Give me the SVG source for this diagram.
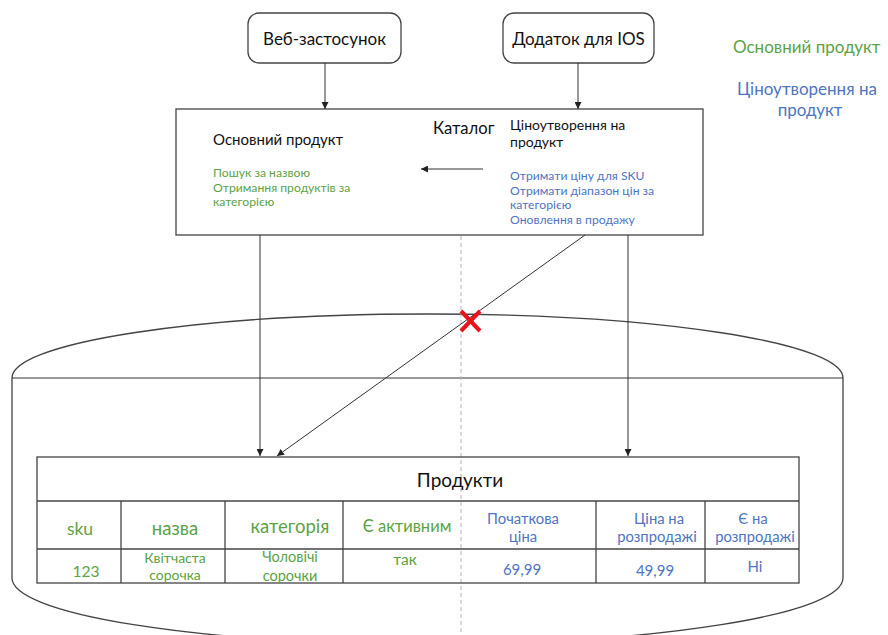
<svg xmlns="http://www.w3.org/2000/svg" width="888" height="635" viewBox="0 0 888 635">
  <style>
    text { font-family: Lato, "Open Sans", "Noto Sans", sans-serif; }
    .blk { fill: #111; }
    .grn { fill: #5ba345; }
    .blu { fill: #4f74c2; }
    .mid { text-anchor: middle; }
    .box { fill: #fff; stroke: #444; stroke-width: 1.3; }
    .cell { fill: none; stroke: #444; stroke-width: 1.3; }
    .conn { fill: none; stroke: #333; stroke-width: 1; }
    .store { fill: #fff; stroke: #444; stroke-width: 1.3; }
  </style>
  <defs>
    <marker id="arr" viewBox="0 0 10 10" refX="10" refY="5" markerWidth="7" markerHeight="7" markerUnits="userSpaceOnUse" orient="auto">
      <path d="M0,0 L10,5 L0,10 Z" fill="#222"/>
    </marker>
  </defs>
  <rect width="888" height="635" fill="#fff"/>

  <!-- database cylinder -->
  <g id="db">
    <path class="store" d="M12,378 A415.5,64 0 0 1 843,378 L843,578 A415.5,66 0 0 1 12,578 Z"/>
    <line class="conn" x1="12" y1="378" x2="843" y2="378" stroke="#555"/>
  </g>

  <!-- divider between the two domains -->
  <line x1="461" y1="110" x2="461" y2="635" stroke="#b4b4b4" stroke-width="1" stroke-dasharray="4 3"/>

  <!-- clients -->
  <g id="web">
    <rect class="box" x="248" y="13" width="153" height="50" rx="11"/>
    <text class="blk mid" x="324.5" y="45" font-size="17">Веб-застосунок</text>
  </g>
  <g id="ios">
    <rect class="box" x="503" y="13" width="151" height="50" rx="11"/>
    <text class="blk mid" x="578.5" y="45" font-size="17">Додаток для IOS</text>
  </g>

  <!-- catalog service -->
  <g id="catalog">
    <rect class="box" x="176" y="109" width="527" height="126" fill="none"/>
    <text class="blk" x="433" y="134" font-size="16.6">Каталог</text>
    <text class="blk" x="213" y="145" font-size="15">Основний продукт</text>
    <text class="grn" x="213" y="177" font-size="12.2">Пошук за назвою</text>
    <text class="grn" x="213" y="191.7" font-size="12.2">Отримання продуктів за</text>
    <text class="grn" x="213" y="206.4" font-size="12.2">категорією</text>
    <text class="blk" x="510" y="130" font-size="14">Ціноутворення на</text>
    <text class="blk" x="510" y="147" font-size="14">продукт</text>
    <text class="blu" x="510" y="180" font-size="12.2">Отримати ціну для SKU</text>
    <text class="blu" x="510" y="194.7" font-size="12.2">Отримати діапазон цін за</text>
    <text class="blu" x="510" y="209.4" font-size="12.2">категорією</text>
    <text class="blu" x="510" y="224.1" font-size="12.2">Оновлення в продажу</text>
  </g>

  <!-- legend -->
  <g id="legend">
    <text class="grn" x="733" y="53" font-size="17">Основний продукт</text>
    <text class="blu" x="737" y="95" font-size="17">Ціноутворення на</text>
    <text class="blu mid" x="810" y="116" font-size="17">продукт</text>
  </g>

  <!-- products table -->
  <g id="products">
    <rect class="cell" x="37" y="457" width="762" height="126" fill="#fff"/>
    <line class="cell" x1="37" y1="501" x2="799" y2="501"/>
    <line class="cell" x1="37" y1="549" x2="799" y2="549"/>
    <line class="cell" x1="121" y1="501" x2="121" y2="583"/>
    <line class="cell" x1="225" y1="501" x2="225" y2="583"/>
    <line class="cell" x1="343" y1="501" x2="343" y2="583"/>
    <line class="cell" x1="596" y1="501" x2="596" y2="583"/>
    <line class="cell" x1="705" y1="501" x2="705" y2="583"/>
    <text class="blk mid" x="460" y="487" font-size="19">Продукти</text>

    <text class="grn mid" x="80" y="535" font-size="17.5">sku</text>
    <text class="grn mid" x="175" y="535" font-size="18.5">назва</text>
    <text class="grn mid" x="290" y="533" font-size="18.5">категорія</text>
    <text class="grn mid" x="407" y="532" font-size="16.5">Є активним</text>
    <text class="blu mid" x="523" y="524" font-size="14.8">Початкова</text>
    <text class="blu mid" x="523" y="542" font-size="14.8">ціна</text>
    <text class="blu mid" x="659" y="524" font-size="14.8">Ціна на</text>
    <text class="blu mid" x="657" y="542" font-size="14.8">розпродажі</text>
    <text class="blu mid" x="753" y="524" font-size="14.8">Є на</text>
    <text class="blu mid" x="755" y="542" font-size="14.8">розпродажі</text>

    <text class="grn mid" x="86" y="577" font-size="15.5">123</text>
    <text class="grn mid" x="175" y="563" font-size="14">Квітчаста</text>
    <text class="grn mid" x="175" y="580" font-size="14">сорочка</text>
    <text class="grn mid" x="290" y="562" font-size="14.5">Чоловічі</text>
    <text class="grn mid" x="290" y="581" font-size="14.5">сорочки</text>
    <text class="grn mid" x="405" y="565" font-size="15.5">так</text>
    <text class="blu mid" x="522" y="575" font-size="15">69,99</text>
    <text class="blu mid" x="655" y="576" font-size="15">49,99</text>
    <text class="blu mid" x="755" y="572" font-size="15">Ні</text>
  </g>

  <!-- connectors -->
  <g id="connectors">
    <line class="conn" x1="325" y1="63" x2="325" y2="109" marker-end="url(#arr)"/>
    <line class="conn" x1="578" y1="63" x2="578" y2="109" marker-end="url(#arr)"/>
    <line class="conn" x1="483" y1="169" x2="421" y2="169" marker-end="url(#arr)"/>
    <line class="conn" x1="260" y1="235" x2="260" y2="456" marker-end="url(#arr)"/>
    <line class="conn" x1="628" y1="235" x2="628" y2="456" marker-end="url(#arr)"/>
    <line class="conn" x1="585" y1="235" x2="277" y2="456" marker-end="url(#arr)"/>
  </g>

  <!-- blocked access mark -->
  <g id="blocked" stroke="#e8141b" stroke-width="4" stroke-linecap="butt">
    <line x1="461" y1="311" x2="480" y2="331"/>
    <line x1="480" y1="311" x2="461" y2="331"/>
  </g>
</svg>
